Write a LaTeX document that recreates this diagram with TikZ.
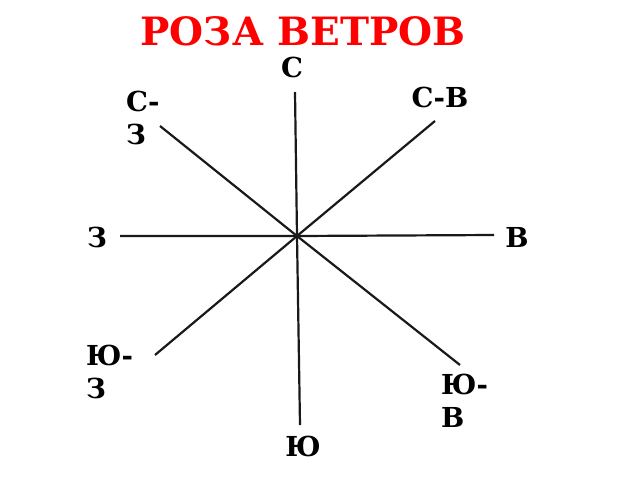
\documentclass[tikz,border=0pt]{standalone}
\usepackage{fontspec}
\setmainfont{DejaVu Serif}
\begin{document}
\begin{tikzpicture}[x=1pt,y=-1pt,
  ray/.style={line width=2.2pt,draw=black!90},
  lbl/.style={font=\fontsize{27.5}{33}\selectfont\bfseries,inner sep=0pt,align=left},
  ttl/.style={font=\fontsize{39}{44}\selectfont\bfseries,text=red,inner sep=0pt}]
\useasboundingbox (0,0) rectangle (640,480);
\coordinate (O) at (297,236);
\coordinate (n) at (295,92);
\coordinate (s) at (300,425);
\coordinate (w) at (120,236);
\coordinate (e) at (494,235);
\coordinate (nw) at (160,126);
\coordinate (se) at (460,365);
\coordinate (ne) at (435,121);
\coordinate (sw) at (155,355);
\draw[ray] (n) -- (O) -- (s);
\draw[ray] (w) -- (O) -- (e);
\draw[ray] (nw) -- (O) -- (se);
\draw[ray] (ne) -- (O) -- (sw);
\node[ttl] (title) at (303,31) {РОЗА ВЕТРОВ};
\node[lbl] (N) at (292,67) {С};
\node[lbl] (NE) at (440,97) {С-В};
\node[lbl,anchor=north west] (NW) at (126,91) {С-\\З};
\node[lbl] (W) at (97,237) {З};
\node[lbl] (E) at (517,237) {В};
\node[lbl,anchor=north west] (SW) at (86,345) {Ю-\\З};
\node[lbl,anchor=north west] (SE) at (441,374) {Ю-\\В};
\node[lbl] (S) at (303,446) {Ю};
\end{tikzpicture}
\end{document}
